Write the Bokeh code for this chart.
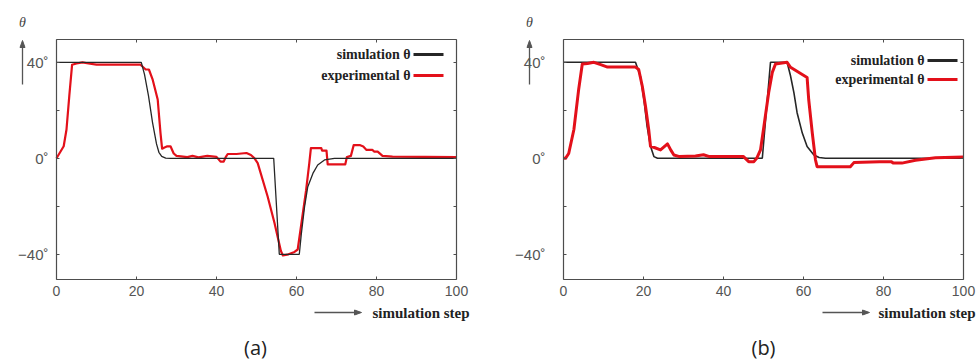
from bokeh.plotting import figure
from bokeh.layouts import row
from bokeh.models import Range1d, FixedTicker, LinearAxis, Label, PolyAnnotation
from bokeh.embed import file_html
from bokeh.resources import INLINE

# ---------------- data ----------------
x_ticks = [0, 20, 40, 60, 80, 100]
y_major_ticks = [-40, 0, 40]
y_minor_ticks = [-20, 20]
y_tick_labels = {-40: "\u221240\u02da", 0: "0\u02da", 40: "40\u02da"}
panel_names = ["(a)", "(b)"]
series_names = ["simulation \u03b8", "experimental \u03b8"]
x_title = "simulation step"
y_title = "\u03b8"

# panel (a) – simulation
a_sim_x = [0, 21.2, 22.0, 23.0, 24.0, 25.0, 25.6, 26.3, 27.3, 28.5, 54.3, 55.7, 60.7, 61.2, 62.0, 62.8, 64.1, 65.3, 67.0, 69.5, 100]
a_sim_y = [40, 40, 35, 26, 15, 6, 2.5, 0.8, 0.1, 0, 0, -40, -40, -31.6, -20.4, -12, -6.3, -2.8, -0.7, 0, 0]
# panel (a) – experimental
a_exp_x = [0, 1.8, 2.5, 3.2, 3.9, 5.0, 6.5, 8, 10, 21, 22.3, 23.1, 24.0, 25.3, 26.0, 26.4, 27.0, 27.7, 28.5, 29.3, 30,
           32.7, 34, 35.5, 37.7, 40, 41, 41.8, 42.3, 42.8, 45, 47.5, 48.6, 49.5, 50.3, 52.8, 54.5, 56.1, 56.6, 58, 59.5,
           60.3, 61.2, 62.4, 63.2, 63.6, 66.2, 66.4, 67.5, 67.8, 72.2, 72.6, 73.6, 74.3, 75.8, 76.7, 77.5, 79, 79.4,
           80.3, 81.5, 84, 100]
a_exp_y = [0, 5, 12, 26, 39, 39.5, 40, 39.5, 39, 39, 37, 37, 33, 24.5, 10.5, 4, 4.5, 5, 5, 2, 1,
           0.5, 1.0, 0.4, 1.0, 0.6, -1.4, -1.4, 0.5, 1.8, 1.8, 2.2, 1.4, 0, -2, -16, -27, -38.6, -40.5, -40, -39,
           -38, -27.4, -13.3, -2, 4.2, 4.2, 3.2, 3.2, -2.5, -2.5, 0.5, 1, 5.5, 5.5, 4.9, 3.5, 3.5, 2.8,
           2.8, 1, 0.7, 0.5]

# panel (b) – simulation
b_sim_x = [0, 18, 19.25, 20.1, 20.9, 21.75, 22.6, 23.5, 49.7, 51.75, 55.9, 56.75, 57.6, 58.4, 59.7, 60.9, 62.6, 63.9, 65.5, 100]
b_sim_y = [40, 40, 34, 24.5, 13.3, 5, 0.7, 0, 0, 40, 40, 34.4, 27.4, 19, 10.5, 4.9, 1.4, 0.3, 0, 0]
# panel (b) – experimental
b_exp_x = [0, 0.5, 1.3, 2.6, 3.8, 4.7, 6, 7.6, 9.3, 11, 18, 18.8, 19.7, 20.5, 21.3, 21.75, 22.7, 24.25, 26.0, 26.8,
           27.6, 29, 33, 35, 36.5, 40, 45, 46.3, 47.6, 48.3, 49.25, 50.1, 51.3, 52.2, 53, 55.9, 56.75, 60.9, 61.3,
           62.2, 63.0, 63.4, 63.8, 71.7, 72.6, 79, 81.9, 82.5, 84.6, 88, 93, 100]
b_exp_y = [0, 0, 2, 12, 28.8, 39.3, 39.5, 40, 39, 38, 38, 37, 30, 21.7, 12, 5, 4.5, 3.5, 6, 3.5,
           1.4, 0.7, 1, 1.5, 0.7, 0.7, 0.7, -1.4, -1.4, 0, 3.5, 13.3, 27.4, 35.8, 39.3, 40, 37.9, 33.7, 24.5,
           10.5, -0.7, -3.5, -3.5, -3.5, -1.8, -1.4, -1.4, -2, -2, -0.8, 0.2, 0.5]

# ---------------- styling / layout (page pixels) ----------------
FIG_H = 361
BOX_TOP, BOX_H, BOX_W = 39, 240, 400          # plot box position on the page
BOX_X = (0, 100)                              # data extent of the drawn box
BOX_Y = (-50.5, 49.5)
TICK_FONT = "Liberation Sans"
SERIF = "Liberation Serif"
FRAME_COLOR = "#4d4d4d"
BLACK = "#262626"
RED = "#e3101a"
ARROW_COLOR = "#555555"

panel_cfg = [
    dict(page_left=0, width=498, box_left=56, y_standoff=8, red_w=2.2, blk_w=1.3, black_on_top=True,
         theta=(22, 22), yarrow=(22, 84, 40), xarrow=(314, 361, 312), xlabel=(372, 312),
         caption=(255, 347), leg_right=410, leg_y=(54, 75), leg_line=(413, 443)),
    dict(page_left=498, width=480, box_left=563, y_standoff=18, red_w=3.0, blk_w=1.6, black_on_top=False,
         theta=(529, 22), yarrow=(529, 84, 40), xarrow=(822, 869, 312), xlabel=(878, 312),
         caption=(763, 347), leg_right=924, leg_y=(60, 79), leg_line=(927, 957)),
]


def make_panel(sim_x, sim_y, exp_x, exp_y, name, cfg):
    sx = (BOX_X[1] - BOX_X[0]) / BOX_W
    sy = (BOX_Y[1] - BOX_Y[0]) / BOX_H

    def X(px):
        return BOX_X[0] + (px - cfg["box_left"]) * sx

    def Y(py):
        return BOX_Y[1] - (py - BOX_TOP) * sy

    # the frame covers the whole canvas so that nothing outside the box is clipped
    p = figure(width=cfg["width"], height=FIG_H,
               x_range=Range1d(X(cfg["page_left"]), X(cfg["page_left"] + cfg["width"])),
               y_range=Range1d(Y(FIG_H), Y(0)),
               output_backend="svg", toolbar_location=None,
               x_axis_location=None, y_axis_location=None, min_border=0)
    p.grid.visible = False
    p.outline_line_color = None

    common = dict(axis_line_color=FRAME_COLOR, axis_line_width=1.2,
                  major_tick_line_color=FRAME_COLOR, minor_tick_line_color=FRAME_COLOR,
                  major_tick_in=3, major_tick_out=0, minor_tick_in=3, minor_tick_out=0)

    bottom = LinearAxis(fixed_location=BOX_Y[0], bounds=BOX_X, ticker=FixedTicker(ticks=x_ticks),
                        major_label_standoff=6, major_label_text_font=TICK_FONT,
                        major_label_text_font_size="14px", major_label_text_color="#555555", **common)
    top = LinearAxis(fixed_location=BOX_Y[1], bounds=BOX_X, ticker=FixedTicker(ticks=x_ticks),
                     major_label_text_font_size="1px", major_label_text_color=None, **common)
    left = LinearAxis(fixed_location=BOX_X[0], bounds=BOX_Y,
                      ticker=FixedTicker(ticks=y_major_ticks, minor_ticks=y_minor_ticks),
                      major_label_overrides=y_tick_labels, major_label_standoff=cfg["y_standoff"],
                      major_label_text_font=TICK_FONT, major_label_text_font_size="15px",
                      major_label_text_color="#555555", **common)
    right = LinearAxis(fixed_location=BOX_X[1], bounds=BOX_Y,
                       ticker=FixedTicker(ticks=y_major_ticks, minor_ticks=y_minor_ticks),
                       major_label_text_font_size="1px", major_label_text_color=None, **common)
    p.add_layout(bottom, "below")
    p.add_layout(top, "above")
    p.add_layout(left, "left")
    p.add_layout(right, "right")

    def draw_sim():
        p.line(sim_x, sim_y, line_color=BLACK, line_width=cfg["blk_w"])

    def draw_exp():
        p.line(exp_x, exp_y, line_color=RED, line_width=cfg["red_w"], line_join="round")

    if cfg["black_on_top"]:
        draw_exp(); draw_sim()
    else:
        draw_sim(); draw_exp()

    def seg(x0, y0, x1, y1, color, width):
        p.add_layout(PolyAnnotation(xs=[X(x0), X(x1)], ys=[Y(y0), Y(y1)],
                                    line_color=color, line_alpha=1, line_width=width, fill_color=None))

    def tri(pts, color):
        p.add_layout(PolyAnnotation(xs=[X(a) for a, b in pts], ys=[Y(b) for a, b in pts],
                                    line_color=color, line_alpha=1, line_width=1,
                                    fill_color=color, fill_alpha=1))

    for txt, ly in zip(series_names, cfg["leg_y"]):
        p.add_layout(Label(x=X(cfg["leg_right"]), y=Y(ly), text=txt, text_align="right",
                           text_baseline="middle", text_font=SERIF, text_font_style="bold",
                           text_font_size="14px", text_color="#222222"))
    tx, ty = cfg["theta"]
    p.add_layout(Label(x=X(tx), y=Y(ty), text=y_title, text_align="center", text_baseline="middle",
                       text_font=SERIF, text_font_style="italic", text_font_size="14px",
                       text_color="#444444"))
    lx, ly = cfg["xlabel"]
    p.add_layout(Label(x=X(lx), y=Y(ly), text=x_title, text_align="left", text_baseline="middle",
                       text_font=SERIF, text_font_style="bold", text_font_size="15px",
                       text_color="#222222"))
    cx, cy = cfg["caption"]
    p.add_layout(Label(x=X(cx), y=Y(cy), text=name, text_align="center", text_baseline="middle",
                       text_font="Open Sans", text_font_size="20px", text_color="#222222"))

    for ly, col in zip(cfg["leg_y"], [BLACK, RED]):
        seg(cfg["leg_line"][0], ly, cfg["leg_line"][1], ly, col, 3)

    ax, ay0, ay1 = cfg["yarrow"]
    seg(ax, ay0, ax, ay1 + 6, ARROW_COLOR, 1.3)
    tri([(ax - 2.5, ay1 + 7), (ax + 2.5, ay1 + 7), (ax, ay1)], ARROW_COLOR)

    x0, x1, xy = cfg["xarrow"]
    seg(x0, xy, x1 - 6, xy, ARROW_COLOR, 1.3)
    tri([(x1 - 7, xy - 2.5), (x1 - 7, xy + 2.5), (x1, xy)], ARROW_COLOR)
    return p


pa = make_panel(a_sim_x, a_sim_y, a_exp_x, a_exp_y, panel_names[0], panel_cfg[0])
pb = make_panel(b_sim_x, b_sim_y, b_exp_x, b_exp_y, panel_names[1], panel_cfg[1])

layout = row(pa, pb, spacing=0)
open("out.html", "w").write(file_html(layout, INLINE))
